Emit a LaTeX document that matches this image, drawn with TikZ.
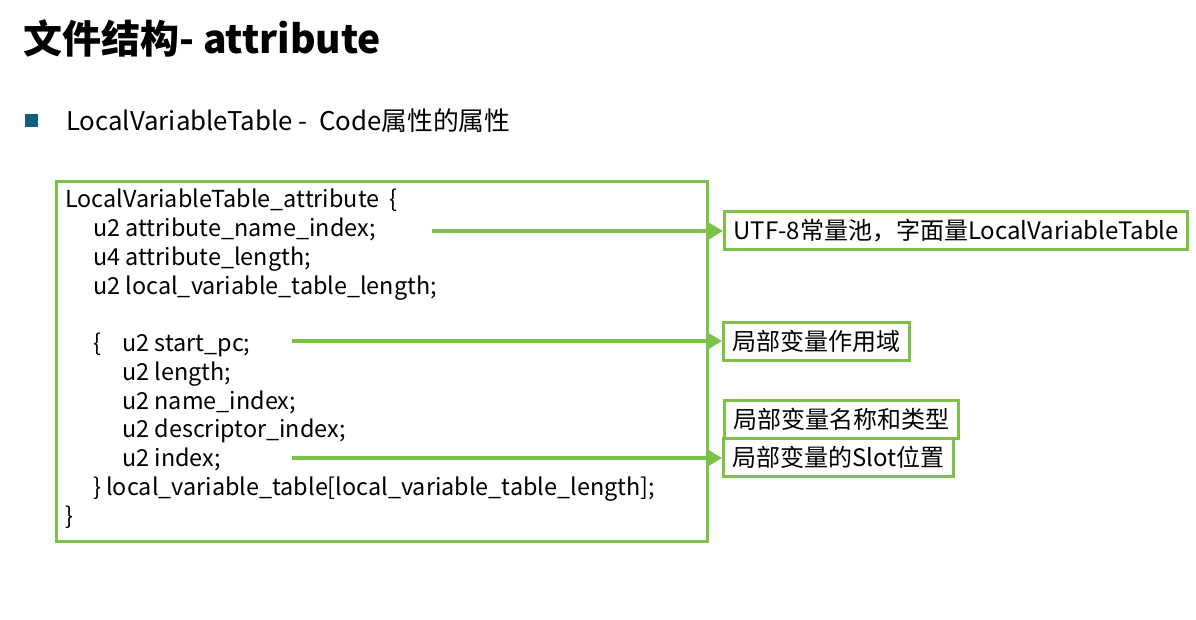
\documentclass[tikz,border=0pt]{standalone}
\usepackage{fontspec}
\setmainfont{Noto Sans CJK SC}
\definecolor{attrVerde}{HTML}{7CC24A}
\definecolor{attrAzul}{HTML}{0F5F7F}
\usetikzlibrary{
	arrows.meta,
	positioning,
	calc
}
\tikzset{
	titulo/.style={
		anchor=west,
		inner sep=0pt,
		font=\fontsize{39}{44}\selectfont\bfseries
	},
	subtitulo/.style={
		anchor=west,
		inner sep=0pt,
		font=\fontsize{25.8}{30}\selectfont
	},
	marco/.style={
		draw=attrVerde,
		line width=3pt,
		anchor=north west,
		inner sep=0pt
	},
	linea/.style={
		anchor=base west,
		inner sep=0pt,
		font=\fontsize{23.4}{27}\selectfont
	},
	nota/.style={
		draw=attrVerde,
		line width=3pt,
		fill=white,
		anchor=west,
		inner xsep=9pt,
		inner ysep=0pt,
		minimum height=38pt,
		font=\fontsize{24}{28}\selectfont
	},
	flecha/.style={
		-{Triangle[length=15pt,width=17pt]},
		line width=3.5pt,
		attrVerde
	}
}

\begin{document}
\begin{tikzpicture}[x=1pt,y=-1pt]
		\useasboundingbox (0,0) rectangle (1196,619);
		% encabezado
		\node[titulo] (tit) at (23,38) {文件结构- attribute};
		\fill[attrAzul] (25,114) rectangle (38,127);
		\node[subtitulo] (sub) at (66,121) {LocalVariableTable -\ \ Code属性的属性};
		% estructura
		\node[marco, minimum width=651pt, minimum height=360pt] (caja) at (55,180) {};
		\node[linea] (l1) at (65,207) {LocalVariableTable\_attribute\ \ \{};
		\node[linea] (l2) at (93,236) {u2 attribute\_name\_index;};
		\node[linea] (l3) at (93,265) {u4 attribute\_length;};
		\node[linea] (l4) at (93,294) {u2 local\_variable\_table\_length;};
		\node[linea] (l5) at (93,351) {\{};
		\node[linea] (l6) at (122,351) {u2 start\_pc;};
		\node[linea] (l7) at (122,380) {u2 length;};
		\node[linea] (l8) at (122,409) {u2 name\_index;};
		\node[linea] (l9) at (122,437) {u2 descriptor\_index;};
		\node[linea] (l10) at (122,466) {u2 index;};
		\node[linea] (l11) at (93,495) {\} local\_variable\_table[local\_variable\_table\_length];};
		\node[linea] (l12) at (65,524) {\}};
		% notas
		\node[nota] (nA) at (723,230.5) {UTF-8常量池，字面量LocalVariableTable};
		\node[nota] (nB) at (722,341.5) {局部变量作用域};
		\node[nota] (nC) at (723,419) {局部变量名称和类型};
		\node[nota] (nD) at (722,457.5) {局部变量的Slot位置};
		\coordinate (oA) at (432,231);
		\coordinate (oB) at (292,341);
		\coordinate (oD) at (292,458);
		\draw[flecha] (oA) -- (oA -| nA.west);
		\draw[flecha] (oB) -- (oB -| nB.west);
		\draw[flecha] (oD) -- (oD -| nD.west);
	\end{tikzpicture}
\end{document}
